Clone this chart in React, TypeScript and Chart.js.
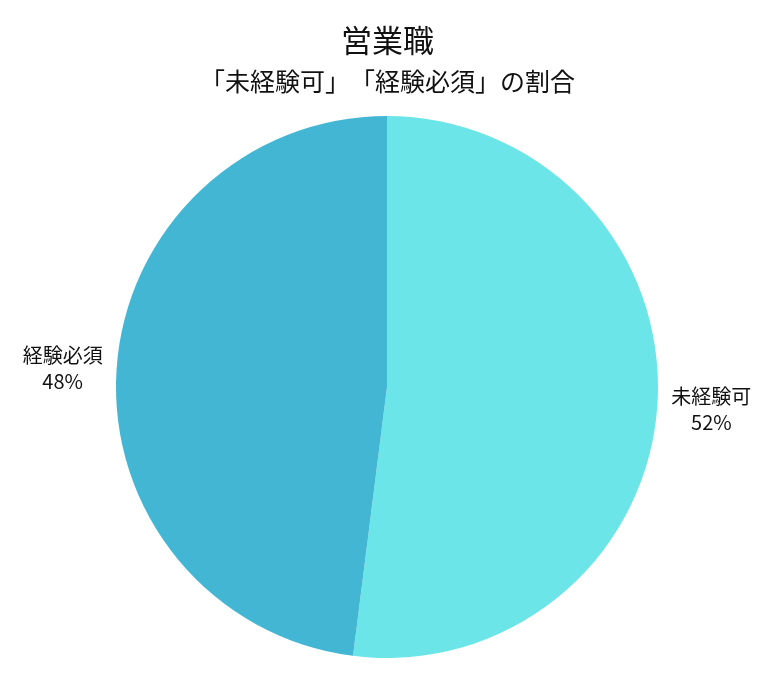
import { Chart, registerables } from "chart.js";
import { useEffect, useRef } from "react";

Chart.register(...registerables);

const titleText = "営業職";
const subtitleText = "「未経験可」「経験必須」の割合";
const categories = ["未経験可", "経験必須"];
const shares = [52, 48];
const sliceColors = ["#6ce5e8", "#43b6d4"];

const FONT = "'Noto Sans CJK JP', 'Noto Sans', sans-serif";

// 括弧の詰めを避けるため1文字ずつ描く
function drawSpaced(ctx: CanvasRenderingContext2D, text: string, cx: number, y: number) {
    const chars = Array.from(text);
    const widths = chars.map((c) => ctx.measureText(c).width);
    const total = widths.reduce((a, b) => a + b, 0);
    let x = cx - total / 2;
    ctx.textAlign = "left";
    chars.forEach((c, i) => {
        ctx.fillText(c, x, y);
        x += widths[i];
    });
    ctx.textAlign = "center";
}

export default function App() {
    const canvasRef = useRef<HTMLCanvasElement | null>(null);

    useEffect(() => {
        if (!canvasRef.current) return;

        // タイトルと外側ラベルを描く
        const outerLabels = {
            id: "outerLabels",
            afterDatasetsDraw(chart: any) {
                const { ctx } = chart;
                const meta = chart.getDatasetMeta(0);
                ctx.save();
                ctx.fillStyle = "#111";
                ctx.textAlign = "center";
                ctx.textBaseline = "middle";

                ctx.font = `31px ${FONT}`;
                ctx.fillText(titleText, chart.width / 2, 40);
                ctx.font = `25px ${FONT}`;
                drawSpaced(ctx, subtitleText, chart.width / 2, 81);

                ctx.font = `20px ${FONT}`;
                meta.data.forEach((arc: any, i: number) => {
                    const mid = (arc.startAngle + arc.endAngle) / 2;
                    const r = arc.outerRadius + 54;
                    const x = arc.x + Math.cos(mid) * r;
                    const y = arc.y + Math.sin(mid) * r + 2;
                    ctx.fillText(categories[i], x, y - 13);
                    ctx.fillText(`${shares[i]}%`, x, y + 13);
                });
                ctx.restore();
            },
        };

        const chart = new Chart(canvasRef.current, {
            type: "pie",
            data: {
                labels: categories,
                datasets: [
                    {
                        data: shares,
                        backgroundColor: sliceColors,
                        borderWidth: 0,
                    },
                ],
            },
            options: {
                animation: false,
                responsive: false,
                layout: {
                    padding: { top: 116, bottom: 21, left: 116, right: 117 },
                },
                plugins: {
                    legend: { display: false },
                    tooltip: { enabled: false },
                },
            },
            plugins: [outerLabels],
        });

        return () => chart.destroy();
    }, []);

    return (
        <div style={{ position: "absolute", left: 0, top: 0, width: 775, height: 679, background: "#fff" }}>
            <canvas ref={canvasRef} width={775} height={679} style={{ width: 775, height: 679 }}></canvas>
        </div>
    );
}
